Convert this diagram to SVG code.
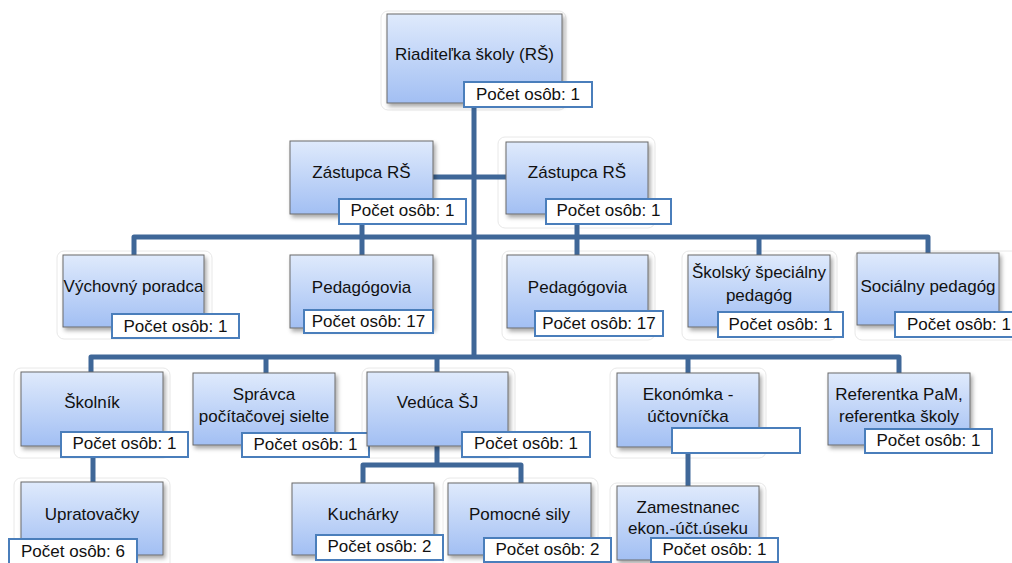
<svg xmlns="http://www.w3.org/2000/svg" width="1012" height="563" viewBox="0 0 1012 563">
<defs>
<linearGradient id="g" x1="0" y1="0" x2="0" y2="1">
<stop offset="0" stop-color="#dfeafc"/>
<stop offset="1" stop-color="#a2bff3"/>
</linearGradient>
<filter id="sh" x="-10%" y="-10%" width="130%" height="140%">
<feDropShadow dx="2" dy="3" stdDeviation="2" flood-color="#000" flood-opacity="0.35"/>
</filter>
<style>
.box{fill:url(#g);stroke:#6a6a6a;stroke-width:1;filter:url(#sh)}
.lab{fill:#ffffff;stroke:#4a7ebb;stroke-width:2}
.ghost{fill:none;stroke:#e8e8e8;stroke-width:1}
.t{font-family:"Liberation Sans",Arial,sans-serif;font-size:17px;fill:#111;text-anchor:middle}
.c{fill:none;stroke:#3f6798;stroke-width:5;stroke-linejoin:round}
</style>
</defs>
<rect width="1012" height="563" fill="#fff"/>
<g id="ghosts">
<rect class="ghost" x="381" y="11" width="185" height="99" rx="7"/>
<rect class="ghost" x="498" y="137" width="157" height="91" rx="7"/>
<rect class="ghost" x="57" y="251" width="155" height="88" rx="7"/>
<rect class="ghost" x="502" y="251" width="153" height="89" rx="7"/>
<rect class="ghost" x="682" y="251" width="155" height="89" rx="7"/>
<rect class="ghost" x="855" y="251" width="170" height="89" rx="7"/>
<rect class="ghost" x="14" y="368" width="156" height="90" rx="7"/>
<rect class="ghost" x="362" y="368" width="153" height="90" rx="7"/>
<rect class="ghost" x="610" y="368" width="156" height="90" rx="7"/>
<rect class="ghost" x="14" y="478" width="156" height="95" rx="7"/>
<rect class="ghost" x="443" y="478" width="155" height="95" rx="7"/>
<rect class="ghost" x="610" y="483" width="156" height="95" rx="7"/>
</g>
<g id="connectors">
<path class="c" d="M474 60 V357"/>
<path class="c" d="M420 177 H520"/>
<path class="c" d="M134 260 V237 H928 V258"/>
<path class="c" d="M362 210 V260"/>
<path class="c" d="M577 210 V260"/>
<path class="c" d="M759 237 V260"/>
<path class="c" d="M91 377 V357 H899 V377"/>
<path class="c" d="M266 357 V377"/>
<path class="c" d="M437 357 V377"/>
<path class="c" d="M688 357 V377"/>
<path class="c" d="M93 440 V487"/>
<path class="c" d="M437 440 V465"/>
<path class="c" d="M363 488 V465 H521 V488"/>
<path class="c" d="M688 440 V490"/>
</g>
<g id="n-root">
<rect class="box" x="387" y="14" width="175" height="89"/>
<text class="t" x="474.5" y="60">Riaditeľka školy (RŠ)</text>
<rect class="lab" x="464" y="82" width="128" height="25"/>
<text class="t" x="528" y="100">Počet osôb: 1</text>
</g>
<g id="n-zastupca1">
<rect class="box" x="290" y="141" width="143" height="73"/>
<text class="t" x="361.5" y="178">Zástupca RŠ</text>
<rect class="lab" x="339" y="199" width="127" height="25"/>
<text class="t" x="402.5" y="216">Počet osôb: 1</text>
</g>
<g id="n-zastupca2">
<rect class="box" x="506" y="142" width="142" height="72"/>
<text class="t" x="577" y="178">Zástupca RŠ</text>
<rect class="lab" x="546" y="199" width="125" height="25"/>
<text class="t" x="608.5" y="216">Počet osôb: 1</text>
</g>
<g id="n-vychovny">
<rect class="box" x="63" y="255" width="141" height="72"/>
<text class="t" x="133.5" y="292">Výchovný poradca</text>
<rect class="lab" x="112" y="314" width="127" height="24"/>
<text class="t" x="175.5" y="332">Počet osôb: 1</text>
</g>
<g id="n-pedagogovia1">
<rect class="box" x="290" y="255" width="143" height="73"/>
<text class="t" x="361.5" y="293">Pedagógovia</text>
<rect class="lab" x="304" y="310" width="129" height="23"/>
<text class="t" x="368.5" y="327">Počet osôb: 17</text>
</g>
<g id="n-pedagogovia2">
<rect class="box" x="507" y="255" width="141" height="73"/>
<text class="t" x="577.5" y="293">Pedagógovia</text>
<rect class="lab" x="535" y="311" width="128" height="25"/>
<text class="t" x="599" y="329">Počet osôb: 17</text>
</g>
<g id="n-skolsky">
<rect class="box" x="688" y="255" width="142" height="72"/>
<text class="t" x="759" y="278">Školský špeciálny</text>
<text class="t" x="759" y="301">pedagóg</text>
<rect class="lab" x="718" y="312" width="125" height="25"/>
<text class="t" x="780.5" y="330">Počet osôb: 1</text>
</g>
<g id="n-socialny">
<rect class="box" x="857" y="253" width="142" height="72"/>
<text class="t" x="928" y="292">Sociálny pedagóg</text>
<rect class="lab" x="895" y="312" width="128" height="25"/>
<text class="t" x="959" y="330">Počet osôb: 1</text>
</g>
<g id="n-skolnik">
<rect class="box" x="21" y="372" width="142" height="74"/>
<text class="t" x="92" y="408">Školník</text>
<rect class="lab" x="61" y="432" width="127" height="25"/>
<text class="t" x="124.5" y="449">Počet osôb: 1</text>
</g>
<g id="n-spravca">
<rect class="box" x="193" y="373" width="142" height="72"/>
<text class="t" x="264" y="400">Správca</text>
<text class="t" x="264" y="422">počítačovej sielte</text>
<rect class="lab" x="242" y="433" width="127" height="24"/>
<text class="t" x="305.5" y="450">Počet osôb: 1</text>
</g>
<g id="n-veduca">
<rect class="box" x="367" y="372" width="141" height="74"/>
<text class="t" x="437.5" y="408">Vedúca ŠJ</text>
<rect class="lab" x="462" y="432" width="128" height="25"/>
<text class="t" x="526" y="449">Počet osôb: 1</text>
</g>
<g id="n-ekonomka">
<rect class="box" x="617" y="373" width="142" height="74"/>
<text class="t" x="688" y="400">Ekonómka -</text>
<text class="t" x="688" y="422">účtovníčka</text>
<rect class="lab" x="672" y="428" width="128" height="25"/>
</g>
<g id="n-referentka">
<rect class="box" x="828" y="373" width="142" height="72"/>
<text class="t" x="899" y="400">Referentka PaM,</text>
<text class="t" x="899" y="422">referentka školy</text>
<rect class="lab" x="865" y="429" width="127" height="24"/>
<text class="t" x="928.5" y="446">Počet osôb: 1</text>
</g>
<g id="n-upratovacky">
<rect class="box" x="21" y="482" width="142" height="73"/>
<text class="t" x="92" y="520">Upratovačky</text>
<rect class="lab" x="9" y="539" width="128" height="27"/>
<text class="t" x="73" y="557">Počet osôb: 6</text>
</g>
<g id="n-kucharky">
<rect class="box" x="292" y="483" width="142" height="72"/>
<text class="t" x="363" y="520">Kuchárky</text>
<rect class="lab" x="316" y="535" width="127" height="25"/>
<text class="t" x="379.5" y="552">Počet osôb: 2</text>
</g>
<g id="n-pomocne">
<rect class="box" x="448" y="483" width="143" height="72"/>
<text class="t" x="519.5" y="520">Pomocné sily</text>
<rect class="lab" x="484" y="538" width="127" height="24"/>
<text class="t" x="547.5" y="555">Počet osôb: 2</text>
</g>
<g id="n-zamestnanec">
<rect class="box" x="617" y="486" width="142" height="74"/>
<text class="t" x="688" y="513">Zamestnanec</text>
<text class="t" x="688" y="534">ekon.-účt.úseku</text>
<rect class="lab" x="651" y="538" width="127" height="24"/>
<text class="t" x="714.5" y="555">Počet osôb: 1</text>
</g>
</svg>
